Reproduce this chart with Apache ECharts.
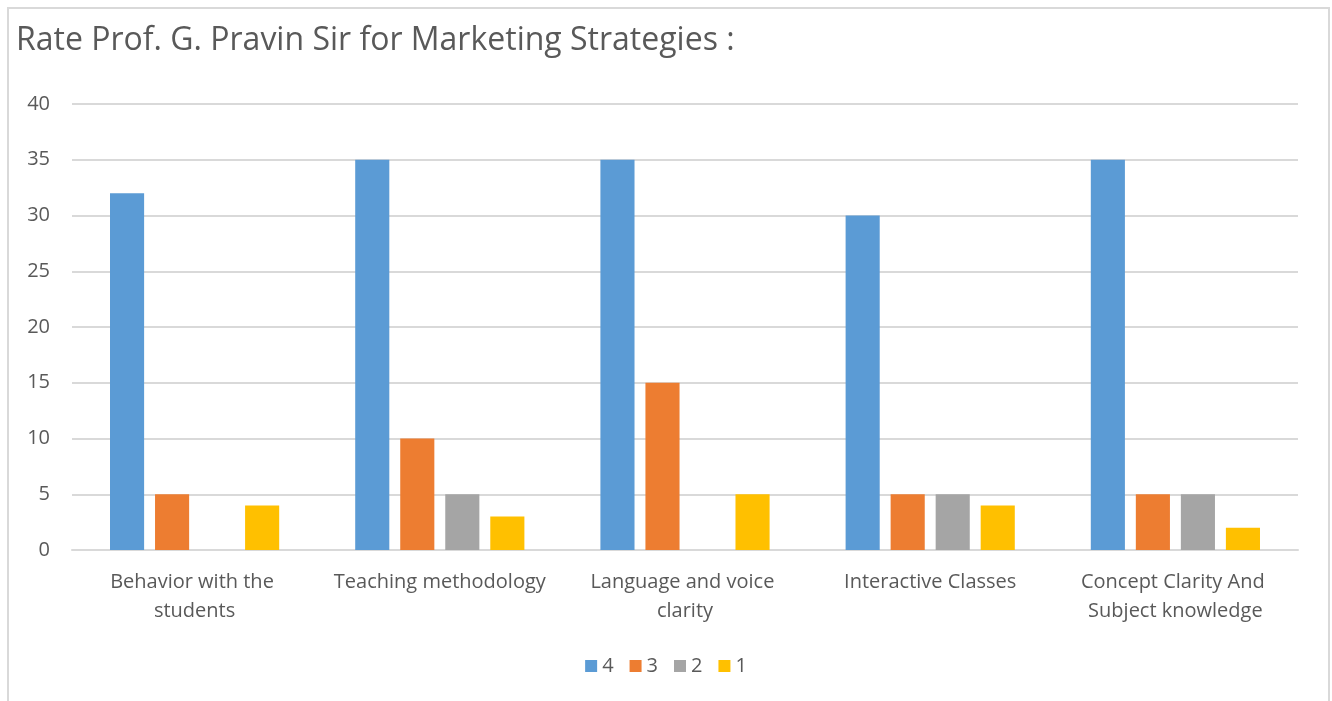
<!DOCTYPE html>
<html>
<head>
<meta charset="utf-8">
<script src="https://cdn.jsdelivr.net/npm/echarts@6/dist/echarts.min.js"></script>
<style>
  html, body { margin: 0; padding: 0; background: #fff; }
  #frame { position: absolute; left: 7px; top: 7px; width: 1319px; height: 720px; border: 2px solid #d9d9d9; }
  #chart { position: absolute; left: 0; top: 0; width: 1332px; height: 701px; }
</style>
</head>
<body>
<div id="frame"></div>
<div id="chart"></div>
<script>
  const categories = ['Behavior with the students', 'Teaching methodology', 'Language and voice clarity', 'Interactive Classes', 'Concept Clarity And Subject knowledge']
  const seriesNames = ['4', '3', '2', '1']
  const rating4 = [32, 35, 35, 30, 35]
  const rating3 = [5, 10, 15, 5, 5]
  const rating2 = [0, 5, 0, 5, 5]
  const rating1 = [4, 3, 5, 4, 2]
  const colors = ['#5b9bd5', '#ed7d31', '#a5a5a5', '#ffc000']

  const font = '"Open Sans", "Noto Sans", sans-serif'
  const chart = echarts.init(document.getElementById('chart'))

  chart.setOption({
    color: colors,
    animation: false,
    title: {
      text: 'Rate Prof. G. Pravin Sir for Marketing Strategies :',
      left: 11,
      top: 20,
      textStyle: { fontFamily: font, fontSize: 32, fontWeight: 'normal', color: '#595959' }
    },
    legend: {
      bottom: 20,
      left: 'center',
      itemWidth: 12,
      itemHeight: 12,
      itemGap: 16,
      icon: 'rect',
      textStyle: { fontFamily: font, fontSize: 20, color: '#595959' },
      data: seriesNames
    },
    grid: { left: 72, right: 34, top: 104, bottom: 151 },
    xAxis: {
      type: 'category',
      data: categories,
      axisLine: { lineStyle: { color: '#d9d9d9', width: 2 } },
      axisTick: { show: false },
      axisLabel: {
        interval: 0,
        margin: 18,
        width: 235,
        overflow: 'break',
        lineHeight: 29,
        fontFamily: font,
        fontSize: 20,
        color: '#595959'
      }
    },
    yAxis: {
      type: 'value',
      min: 0,
      max: 40,
      interval: 5,
      axisLine: { show: false },
      axisTick: { show: false },
      splitLine: { lineStyle: { color: '#d9d9d9', width: 2 } },
      axisLabel: { margin: 22, fontFamily: font, fontSize: 20, color: '#595959' }
    },
    series: [
      { name: '4', type: 'bar', data: rating4, barGap: '32%', barCategoryGap: '31%' },
      { name: '3', type: 'bar', data: rating3 },
      { name: '2', type: 'bar', data: rating2 },
      { name: '1', type: 'bar', data: rating1 }
    ]
  })
</script>
</body>
</html>
